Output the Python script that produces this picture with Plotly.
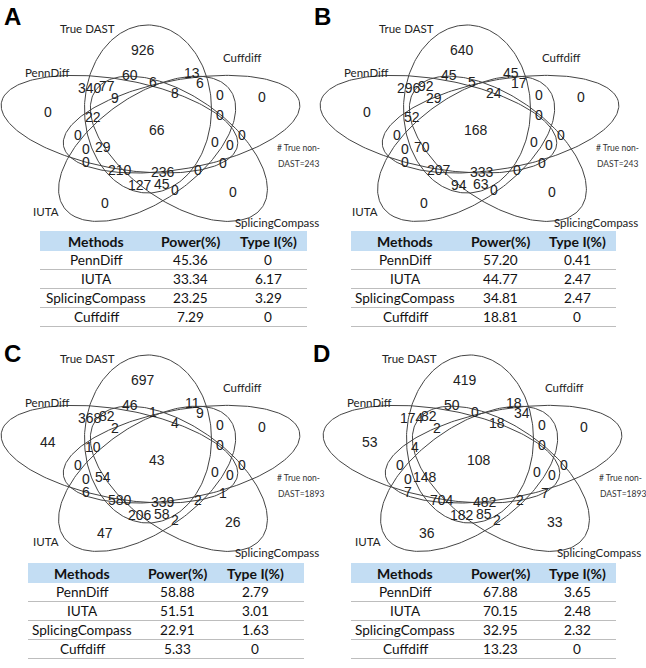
import numpy as np
import plotly.graph_objects as go

# ---------------- data ----------------
set_names = ["True DAST", "Cuffdiff", "SplicingCompass", "IUTA", "PennDiff"]
panel_letters = ["A", "B", "C", "D"]
non_dast = [243, 243, 1893, 1893]

# Venn region counts (same region order in every panel)
counts_A = [926, 60, 6, 13, 6, 340, 77, 9, 8, 0, 0, 0, 22, 0, 0, 66, 0, 0, 0, 0, 29, 0, 210, 236, 0, 0, 127, 45, 0, 0, 0]
counts_B = [640, 45, 5, 45, 17, 296, 92, 29, 24, 0, 0, 0, 52, 0, 0, 168, 0, 0, 0, 0, 70, 0, 207, 333, 0, 0, 94, 63, 0, 0, 0]
counts_C = [697, 46, 1, 11, 9, 368, 82, 2, 4, 0, 0, 44, 10, 0, 0, 43, 0, 0, 0, 0, 54, 6, 580, 339, 2, 1, 206, 58, 2, 26, 47]
counts_D = [419, 50, 0, 18, 34, 174, 82, 2, 18, 0, 0, 53, 4, 0, 0, 108, 0, 0, 0, 0, 148, 7, 704, 482, 2, 7, 182, 85, 2, 33, 36]

methods = ["PennDiff", "IUTA", "SplicingCompass", "Cuffdiff"]
table_header = ["Methods", "Power(%)", "Type I(%)"]
power_A = ["45.36", "33.34", "23.25", "7.29"]
typeI_A = ["0", "6.17", "3.29", "0"]
power_B = ["57.20", "44.77", "34.81", "18.81"]
typeI_B = ["0.41", "2.47", "2.47", "0"]
power_C = ["58.88", "51.51", "22.91", "5.33"]
typeI_C = ["2.79", "3.01", "1.63", "0"]
power_D = ["67.88", "70.15", "32.95", "13.23"]
typeI_D = ["3.65", "2.48", "2.32", "0"]

# ---------------- layout (page pixel space) ----------------
W, H = 646, 668

region_pos = [(143, 50), (130, 75), (153, 82), (192, 73), (200, 83), (90, 88), (107, 86), (115, 98),
              (175, 93), (220, 95), (262, 97), (48, 112), (93, 117), (220, 115), (78, 135), (157, 130),
              (215, 142), (242, 135), (230, 145), (86, 149), (103, 147), (86, 162), (120, 170), (163, 172),
              (198, 170), (223, 163), (140, 185), (162, 184), (175, 190), (233, 192), (105, 203)]
set_label_pos = [(87, 28), (242, 57), (277, 222), (46, 211), (47, 72)]
set_dirs = [90, 18, -54, -126, 162]
set_shift = [(-2, 0), (1, 0), (10, 0), (16, 0), (0, 0)]

panel_offsets = [(0, 0), (319, 0), (0, 330), (322, 330)]
letter_pos = [(12, 16), (322, 16), (12, 353), (321, 353)]
table_geom = [(40, 307, (96, 190, 268), 241),
              (351, 616, (405, 500, 577), 241),
              (28, 304, (82, 177, 255), 573),
              (351, 616, (405, 500, 577), 573)]

venn_center = (150, 131)
ell_a, ell_b, ell_d, sx = 84.0, 43.5, 22.0, 1.46

all_counts = [counts_A, counts_B, counts_C, counts_D]
all_power = [power_A, power_B, power_C, power_D]
all_typeI = [typeI_A, typeI_B, typeI_C, typeI_D]

NUM_FONT = "Liberation Sans, Arial, sans-serif"
LAB_FONT = "Lato, Open Sans, sans-serif"

fig = go.Figure()
annotations = []
shapes = []

t = np.linspace(0, 2 * np.pi, 241)
for p, (ox, oy) in enumerate(panel_offsets):
    cx, cy = venn_center[0] + ox, venn_center[1] + oy
    for k, ang in enumerate(set_dirs):
        th = np.deg2rad(ang)
        X0, Y0 = ell_d * np.cos(th), ell_d * np.sin(th)
        X = X0 + ell_a * np.cos(t) * np.cos(th) - ell_b * np.sin(t) * np.sin(th)
        Y = Y0 + ell_a * np.cos(t) * np.sin(th) + ell_b * np.sin(t) * np.cos(th)
        dx, dy = set_shift[k]
        fig.add_trace(go.Scatter(x=cx + dx + sx * X, y=cy + dy - Y, mode="lines",
                                 line=dict(color="#444444", width=1),
                                 hoverinfo="skip", showlegend=False))
        lx, ly = set_label_pos[k]
        annotations.append(dict(x=lx + ox, y=ly + oy, text=set_names[k], showarrow=False,
                                font=dict(family=LAB_FONT, size=11.5, color="#222"),
                                xanchor="center", yanchor="middle"))
    for val, (rx, ry) in zip(all_counts[p], region_pos):
        annotations.append(dict(x=rx + ox, y=ry + oy, text=str(val), showarrow=False,
                                font=dict(family=NUM_FONT, size=14, color="#222"),
                                xanchor="center", yanchor="middle"))
    annotations.append(dict(x=275 + ox, y=148 + oy, text="# True non-", showarrow=False,
                            font=dict(family=LAB_FONT, size=8.5, color="#333"),
                            xanchor="left", yanchor="middle"))
    annotations.append(dict(x=276 + ox, y=164 + oy, text="DAST=%d" % non_dast[p], showarrow=False,
                            font=dict(family=LAB_FONT, size=8.5, color="#333"),
                            xanchor="left", yanchor="middle"))
    lx, ly = letter_pos[p]
    annotations.append(dict(x=lx, y=ly, text="<b>%s</b>" % panel_letters[p], showarrow=False,
                            font=dict(family=NUM_FONT, size=24, color="#000"),
                            xanchor="center", yanchor="middle"))

    # table
    x0, x1, cols, hy = table_geom[p]
    shapes.append(dict(type="rect", xref="x", yref="y", x0=x0, x1=x1, y0=hy - 10, y1=hy + 10,
                       fillcolor="#c3ddf3", line=dict(width=0), layer="below"))
    for c, txt in zip(cols, table_header):
        annotations.append(dict(x=c, y=hy, text="<b>%s</b>" % txt, showarrow=False,
                                font=dict(family=LAB_FONT, size=14, color="#111"),
                                xanchor="center", yanchor="middle"))
    step = 19.0
    for i in range(len(methods)):
        ry = hy + step * (i + 1)
        row = [methods[i], all_power[p][i], all_typeI[p][i]]
        for c, txt in zip(cols, row):
            annotations.append(dict(x=c, y=ry, text=txt, showarrow=False,
                                    font=dict(family=LAB_FONT, size=13.6, color="#111"),
                                    xanchor="center", yanchor="middle"))
        ly_ = ry + step / 2
        shapes.append(dict(type="line", xref="x", yref="y", x0=x0, x1=x1, y0=ly_, y1=ly_,
                           line=dict(color="#bdbdbd", width=1)))

fig.update_layout(
    width=W, height=H, margin=dict(l=0, r=0, t=0, b=0),
    paper_bgcolor="white", plot_bgcolor="white",
    xaxis=dict(range=[0, W], visible=False, fixedrange=True),
    yaxis=dict(range=[H, 0], visible=False, fixedrange=True),
    annotations=annotations, shapes=shapes, showlegend=False,
)
fig.write_html("out.html", config={"displayModeBar": False},
               post_script="document.body.style.margin='0px';document.body.style.overflow='hidden';")
